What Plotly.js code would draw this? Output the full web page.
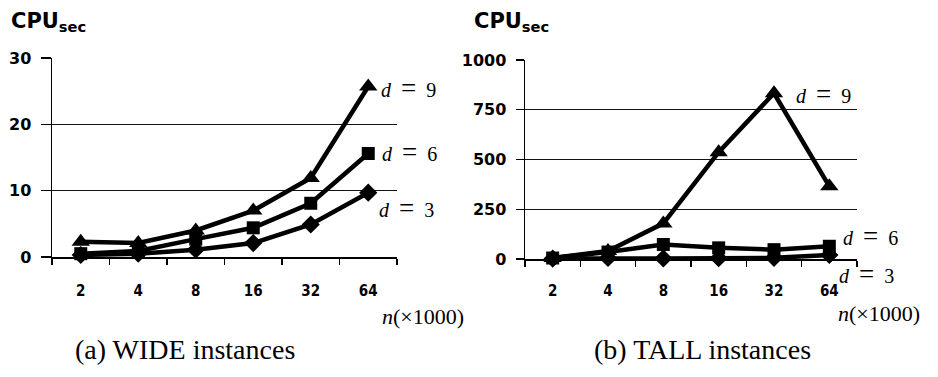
<!DOCTYPE html>
<html>
<head>
<meta charset="utf-8">
<script src="https://cdn.plot.ly/plotly-3.0.1.min.js"></script>
<style>html,body{margin:0;padding:0;background:#fff;}#chart{width:938px;height:377px;}</style>
</head>
<body>
<div id="chart"></div>
<script>
// Data
var categories = ["2", "4", "8", "16", "32", "64"];
var wideD3 = [0.3, 0.5, 1.1, 2.1, 4.9, 9.7];
var wideD6 = [0.5, 0.9, 2.7, 4.4, 8.1, 15.6];
var wideD9 = [2.3, 2.1, 4.0, 7.0, 11.9, 25.7];
var tallD3 = [2, 5, 3, 4, 6, 20];
var tallD6 = [5, 35, 73, 56, 47, 64];
var tallD9 = [5, 40, 179, 537, 833, 365];
var wideTicks = [0, 10, 20, 30];
var tallTicks = [0, 250, 500, 750, 1000];

var W = 938, H = 377;
function px(x){ return x / W; }
function py(y){ return (H - y) / H; }

var lineStyle = {color: '#000', width: 4.5};
function series(x, y, xa, ya, sym, size) {
  return {
    x: x, y: y, xaxis: xa, yaxis: ya, type: 'scatter', mode: 'lines+markers',
    line: lineStyle, cliponaxis: false,
    marker: {symbol: sym, size: size, color: '#000', line: {width: 0}}
  };
}

var data = [
  series(categories, wideD3, 'x', 'y', 'diamond', 14),
  series(categories, wideD6, 'x', 'y', 'square', 13),
  series(categories, wideD9, 'x', 'y', 'triangle-up', 16),
  series(categories, tallD3, 'x2', 'y2', 'diamond', 14),
  series(categories, tallD6, 'x2', 'y2', 'square', 13),
  series(categories, tallD9, 'x2', 'y2', 'triangle-up', 16)
];

var yTickFont = {family: 'DejaVu Sans, sans-serif', size: 16, color: '#000', weight: 'bold'};
var xTickFont = {family: 'DejaVu Sans Condensed, DejaVu Sans, sans-serif', size: 15, color: '#000', weight: 'bold'};

function xAxis(domain, anchor, standoff) {
  return {
    domain: domain, anchor: anchor, type: 'category', range: [-0.5, 5.5],
    tickson: 'boundaries', ticks: 'outside', ticklen: 6, tickwidth: 1.5, tickcolor: '#000',
    showline: true, linecolor: '#000', linewidth: 1.5, showgrid: false, zeroline: false,
    tickfont: xTickFont, ticklabelstandoff: standoff, fixedrange: true
  };
}
function yAxis(domain, anchor, range, tickvals, ticklen) {
  return {
    domain: domain, anchor: anchor, range: range, tickvals: tickvals,
    ticks: 'outside', ticklen: ticklen, tickwidth: 1.2, tickcolor: '#000',
    showline: true, linecolor: '#000', linewidth: 1.5,
    showgrid: true, gridcolor: '#111', gridwidth: 1.2, zeroline: false,
    tickfont: yTickFont, ticklabelstandoff: 6, fixedrange: true
  };
}

var serif = 'Liberation Serif, DejaVu Serif, serif';
function label(text, x, y, size, anchor) {
  return {
    text: text, xref: 'paper', yref: 'paper', x: px(x), y: py(y),
    xanchor: anchor || 'left', yanchor: 'middle', showarrow: false,
    font: {family: serif, size: size || 20, color: '#000'}
  };
}
function cpu(x, y) {
  return {
    text: 'CPU<sub>sec</sub>', xref: 'paper', yref: 'paper', x: px(x), y: py(y),
    xanchor: 'left', yanchor: 'middle', showarrow: false,
    font: {family: 'DejaVu Sans, sans-serif', size: 21, color: '#000', weight: 'bold'}
  };
}
var eq = '\u2002<span style="font-size:27px">=</span>\u2002';

var layout = {
  width: W, height: H,
  margin: {l: 0, r: 0, t: 0, b: 0},
  paper_bgcolor: '#fff', plot_bgcolor: '#fff',
  showlegend: false,
  xaxis: xAxis([px(52), px(397)], 'y', 19),
  yaxis: yAxis([py(257), py(58)], 'x', [0, 30], wideTicks, 10),
  xaxis2: xAxis([px(525), px(857)], 'y2', 17),
  yaxis2: yAxis([py(259), py(60)], 'x2', [0, 1000], tallTicks, 8),
  annotations: [
    cpu(9, 22), cpu(472, 22),
    label('<i>d</i>' + eq + '9', 379, 88),
    label('<i>d</i>' + eq + '6', 380, 152),
    label('<i>d</i>' + eq + '3', 377, 208),
    label('<i>d</i>' + eq + '9', 794, 94),
    label('<i>d</i>' + eq + '6', 841, 236),
    label('<i>d</i>' + eq + '3', 837, 274),
    label('<i>n</i>(×1000)', 380, 316, 22),
    label('<i>n</i>(×1000)', 836, 313, 22),
    label('(a) WIDE instances', 185, 349, 28, 'center'),
    label('(b) TALL instances', 702, 349, 28, 'center')
  ]
};

Plotly.newPlot('chart', data, layout, {staticPlot: true, displayModeBar: false});
</script>
</body>
</html>
